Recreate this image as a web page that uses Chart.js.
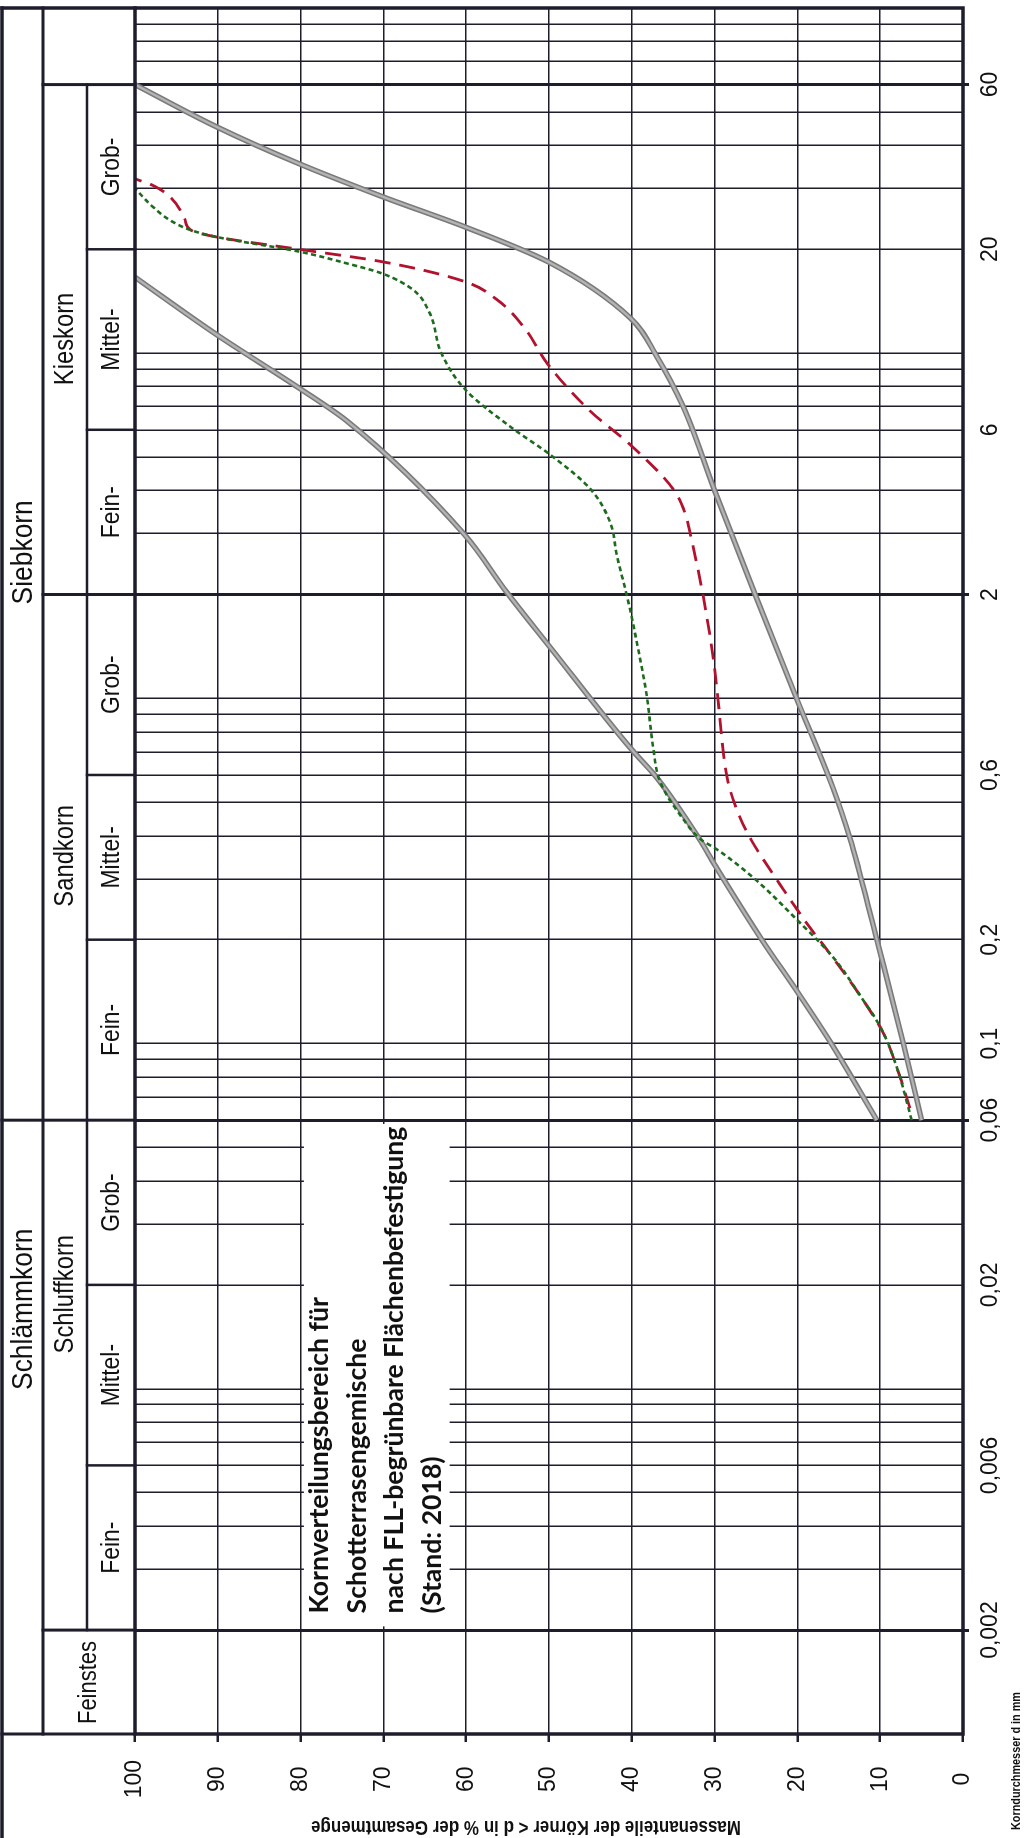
<!DOCTYPE html>
<html>
<head>
<meta charset="utf-8">
<script src="https://cdn.jsdelivr.net/npm/chart.js@4.4.1/dist/chart.umd.min.js"></script>
<style>
  html, body { margin: 0; padding: 0; background: #fff; overflow: hidden; }
  /* the chart is drawn landscape and turned a quarter to the left, like the printed sheet */
  #wrap { position: absolute; left: 0; top: 0; width: 1838px; height: 1030px;
          transform-origin: 0 0; transform: translate(0, 1838px) rotate(-90deg); }
  canvas { display: block; }
</style>
</head>
<body>
<div id="wrap"><canvas id="sieveChart" width="1838" height="1030"></canvas></div>
<script>
// grain size in mm / percent passing
const diamCoarse = [0.06, 0.1, 0.2, 0.32, 0.39, 0.55, 1, 2, 4, 7, 9.8, 12.6, 18.4, 23.2, 28.4, 35.4, 45.2, 60];
const passCoarse = [5, 7.2, 10.4, 12.6, 13.6, 15.7, 20.1, 25.1, 30, 33.8, 37, 40.1, 50.1, 60.1, 70.1, 80.2, 90.1, 100];

const diamFine = [0.06, 0.1, 0.14, 0.2, 0.33, 0.39, 0.59, 0.71, 1.43, 2.03, 3, 6.36, 7.93, 11.3, 16.6];
const passFine = [10.4, 15.9, 19.9, 24.3, 30, 31.8, 37, 40, 50.1, 55.1, 60.3, 74.4, 80.2, 90.1, 100];

const diamRed = [0.065, 0.08, 0.107, 0.133, 0.188, 0.217, 0.289, 0.353, 0.386, 0.45, 0.575, 0.717, 1.0, 1.33, 1.99, 2.89, 3.46, 4.04, 5.38, 6.79, 9.26, 11.95, 14.3, 16.1, 18.4, 20.0, 21.7, 22.7, 24.5, 28.4, 30.6, 32];
const passRed = [6.4, 7.6, 9.6, 12.0, 16.5, 18.5, 22.1, 24.5, 25.5, 26.9, 28.4, 29.0, 29.6, 30.2, 31.4, 32.8, 33.6, 35.0, 40.0, 45.0, 50.1, 53.1, 56.3, 60.1, 70.1, 80.2, 90.1, 93.2, 94.0, 95.8, 97.8, 100];

const diamGreen = [0.06, 0.0855, 0.112, 0.133, 0.178, 0.229, 0.302, 0.369, 0.386, 0.461, 0.575, 0.717, 1.02, 1.457, 1.99, 2.59, 3.23, 4.04, 5.09, 6.08, 7.84, 10.0, 13.06, 15.25, 17.0, 18.2, 19.7, 21.7, 22.7, 24.3, 26.5, 30];
const passGreen = [6.2, 8.0, 10.0, 12.0, 15.7, 20.1, 25.3, 30.0, 31.4, 34.2, 36.6, 37.4, 38.2, 39.4, 40.6, 41.8, 42.6, 45.0, 49.9, 54.5, 60.1, 63.0, 64.4, 66.4, 70.1, 74.4, 80.2, 90.1, 93.2, 95.8, 97.8, 100];

// axes
const gridDiam = [0.001, 0.002, 0.003, 0.004, 0.005, 0.006, 0.007, 0.008, 0.009,
                  0.01, 0.02, 0.03, 0.04, 0.05, 0.06, 0.07, 0.08, 0.09,
                  0.1, 0.2, 0.3, 0.4, 0.5, 0.6, 0.7, 0.8, 0.9,
                  1, 2, 3, 4, 5, 6, 7, 8, 9,
                  10, 20, 30, 40, 50, 60, 70, 80, 90, 100];
const boundaryDiam = [0.002, 0.06, 2, 60];
const tickValues = [0.002, 0.006, 0.02, 0.06, 0.1, 0.2, 0.6, 2, 6, 20, 60];
const tickLabels = ["0,002", "0,006", "0,02", "0,06", "0,1", "0,2", "0,6", "2", "6", "20", "60"];
const percentTicks = [0, 10, 20, 30, 40, 50, 60, 70, 80, 90, 100];

// header of soil classes (limits in mm, label anchor in mm)
const classRow1 = ["Schlämmkorn", "Siebkorn"];
const classRow1Limits = [[0.001, 0.06], [0.06, 100]];
const classRow1Anchor = [0.017, 2.65];
const classRow2 = ["Feinstes", "Schluffkorn", "Sandkorn", "Kieskorn", ""];
const classRow2Limits = [[0.001, 0.002], [0.002, 0.06], [0.06, 2], [2, 60], [60, 100]];
const classRow2Anchor = [0.00141, 0.0188, 0.35, 11, 77];
const classRow3 = ["Fein-", "Mittel-", "Grob-", "Fein-", "Mittel-", "Grob-", "Fein-", "Mittel-", "Grob-"];
const classRow3Limits = [[0.002, 0.006], [0.006, 0.02], [0.02, 0.06], [0.06, 0.2], [0.2, 0.6], [0.6, 2], [2, 6], [6, 20], [20, 60]];

const noteLines = ["Kornverteilungsbereich für", "Schotterrasengemische", "nach FLL-begrünbare Flächenbefestigung", "(Stand: 2018)"];
const yTitle = "Massenanteile der Körner < d in % der Gesamtmenge";
const xTitle = "Korndurchmesser d in mm";

const key = v => Number(v).toPrecision(3);
const labelFor = {};
tickValues.forEach((v, i) => { labelFor[key(v)] = tickLabels[i]; });
const isBoundary = v => boundaryDiam.some(b => key(b) === key(v));

const toPoints = (xs, ys) => xs.map((d, i) => ({ x: d, y: ys[i] }));

const LINE = "#1d1d2c";
const SANS = '"Liberation Sans", Arial, sans-serif';

function text(ctx, str, cx, cy, size, opt = {}) {
  ctx.save();
  ctx.translate(cx, cy);
  if (opt.rotate) ctx.rotate(opt.rotate);
  ctx.scale(opt.squeeze || 1, 1);
  ctx.font = (opt.weight || "normal") + " " + size + "px " + (opt.family || SANS);
  ctx.textAlign = opt.align || "center";
  ctx.textBaseline = "middle";
  ctx.fillStyle = "#111";
  ctx.fillText(str, 0, 0);
  ctx.restore();
}

// font size that makes a string a given width
function fitSize(ctx, str, width, weight, family) {
  ctx.save();
  ctx.font = weight + " 100px " + family;
  const w = ctx.measureText(str).width;
  ctx.restore();
  return 100 * width / w;
}

function hLine(ctx, x0, x1, y, w) {
  ctx.lineWidth = w;
  ctx.beginPath(); ctx.moveTo(x0, y); ctx.lineTo(x1, y); ctx.stroke();
}
function vLine(ctx, x, y0, y1, w) {
  ctx.lineWidth = w;
  ctx.beginPath(); ctx.moveTo(x, y0); ctx.lineTo(x, y1); ctx.stroke();
}

const sheetPlugin = {
  id: "sheet",
  beforeDatasetsDraw(chart) {
    const { ctx, scales: { x, y } } = chart;
    // white note box over the silt area
    const left = x.getPixelForValue(0.00205), right = x.getPixelForValue(0.0585);
    const top = y.getPixelForValue(79.6), bottom = y.getPixelForValue(62);
    ctx.save();
    ctx.fillStyle = "#fff";
    ctx.fillRect(left, top, right - left, bottom - top);
    const fam = 'Lato, "Open Sans", sans-serif';
    const size = fitSize(ctx, noteLines[2], 487, "bold", fam);
    noteLines.forEach((s, i) => {
      text(ctx, s, left + 13, top + 16 + i * 37.5, size, { weight: "bold", family: fam, align: "left" });
    });
    ctx.restore();
  },
  afterDraw(chart) {
    const { ctx, chartArea: a, scales: { x } } = chart;
    const r1 = 2, r2 = 43, r3 = 87, r4 = a.top;
    ctx.save();
    ctx.strokeStyle = LINE;
    ctx.lineCap = "square";

    // plot frame
    ctx.lineWidth = 3.5;
    ctx.strokeRect(a.left, a.top, a.right - a.left, a.bottom - a.top);

    // header frame and rows
    hLine(ctx, 0, a.right, r1, 3.5);
    vLine(ctx, a.left, r1, a.top, 3);
    vLine(ctx, a.right, r1, a.top, 3.5);
    hLine(ctx, a.left, a.right, r2, 3);
    hLine(ctx, x.getPixelForValue(0.002), x.getPixelForValue(60), r3, 2.5);

    vLine(ctx, x.getPixelForValue(0.06), r1, r4, 3);
    [0.002, 2, 60].forEach(v => vLine(ctx, x.getPixelForValue(v), r2, r4, 3));
    [0.006, 0.02, 0.2, 0.6, 6, 20].forEach(v => vLine(ctx, x.getPixelForValue(v), r3, r4, 2.5));

    const mid = lim => (x.getPixelForValue(lim[0]) + x.getPixelForValue(lim[1])) / 2;
    classRow1.forEach((s, i) => text(ctx, s, x.getPixelForValue(classRow1Anchor[i]), (r1 + r2) / 2 + 1, 30, { squeeze: 0.88 }));
    classRow2.forEach((s, i) => {
      if (!s) return;
      const cy = i === 0 ? (r2 + r4) / 2 : (r2 + r3) / 2 + 1;
      text(ctx, s, x.getPixelForValue(classRow2Anchor[i]), cy, i === 0 ? 25 : 27, { squeeze: 0.88 });
    });
    classRow3.forEach((s, i) => text(ctx, s, mid(classRow3Limits[i]), (r3 + r4) / 2 + 1, 26, { squeeze: 0.88 }));

    // axis titles
    const ySize = fitSize(ctx, yTitle, 430, "bold", SANS) / 0.86;
    text(ctx, yTitle, 12, 526, ySize, { weight: "bold", rotate: -Math.PI / 2, squeeze: 0.86 });
    const xSize = fitSize(ctx, xTitle, 138, "bold", SANS) / 0.86;
    text(ctx, xTitle, 77, 1017, xSize, { weight: "bold", squeeze: 0.86 });
    ctx.restore();
  }
};

const lineDefaults = { showLine: true, pointRadius: 0, fill: false, cubicInterpolationMode: "monotone" };
// the printed limit lines are a grey band with darker edges: a dark wide stroke under a light narrow one
const edge = { borderColor: "#7a7a7a", borderWidth: 5.5, order: 3 };
const core = { borderColor: "#b3b3b3", borderWidth: 2.4, order: 2 };

new Chart(document.getElementById("sieveChart"), {
  type: "scatter",
  data: {
    datasets: [
      { ...lineDefaults, ...edge, label: "Grenzlinie grob", data: toPoints(diamCoarse, passCoarse) },
      { ...lineDefaults, ...core, label: "Grenzlinie grob", data: toPoints(diamCoarse, passCoarse) },
      { ...lineDefaults, ...edge, label: "Grenzlinie fein", data: toPoints(diamFine, passFine) },
      { ...lineDefaults, ...core, label: "Grenzlinie fein", data: toPoints(diamFine, passFine) },
      { ...lineDefaults, label: "Gemisch A", data: toPoints(diamRed, passRed), borderColor: "#b3122d", borderWidth: 2.8, borderDash: [16, 9], order: 1 },
      { ...lineDefaults, label: "Gemisch B", data: toPoints(diamGreen, passGreen), borderColor: "#1d6b1d", borderWidth: 2.6, borderDash: [5, 3.5], order: 0 }
    ]
  },
  options: {
    responsive: false,
    animation: false,
    layout: { padding: { top: 135, right: 2, left: 0, bottom: 0 } },
    plugins: { legend: { display: false }, tooltip: { enabled: false } },
    scales: {
      x: {
        type: "logarithmic",
        position: "bottom",
        min: 0.001,
        max: 100,
        afterBuildTicks: s => { s.ticks = gridDiam.map(v => ({ value: v })); },
        afterFit: s => { s.height = 67; },
        border: { display: false },
        grid: {
          color: LINE,
          lineWidth: c => (c.tick && isBoundary(c.tick.value) ? 3 : 1.5),
          tickLength: 6,
          tickWidth: 3,
          tickColor: c => (c.tick && isBoundary(c.tick.value) ? LINE : "rgba(0,0,0,0)")
        },
        ticks: {
          autoSkip: false,
          maxRotation: 0,
          minRotation: 0,
          padding: 8,
          color: "#111",
          font: { family: SANS, size: 23 },
          callback: v => labelFor[key(v)] || ""
        }
      },
      y: {
        type: "linear",
        position: "left",
        min: 0,
        max: 100,
        afterBuildTicks: s => { s.ticks = percentTicks.map(v => ({ value: v })); },
        afterFit: s => { s.width = 104; },
        border: { display: false },
        grid: { color: LINE, lineWidth: 1.5, tickLength: 8, tickWidth: 2.5, tickColor: LINE },
        ticks: { padding: 18, crossAlign: "center", color: "#111", font: { family: SANS, size: 23 } }
      }
    }
  },
  plugins: [sheetPlugin]
});
</script>
</body>
</html>
